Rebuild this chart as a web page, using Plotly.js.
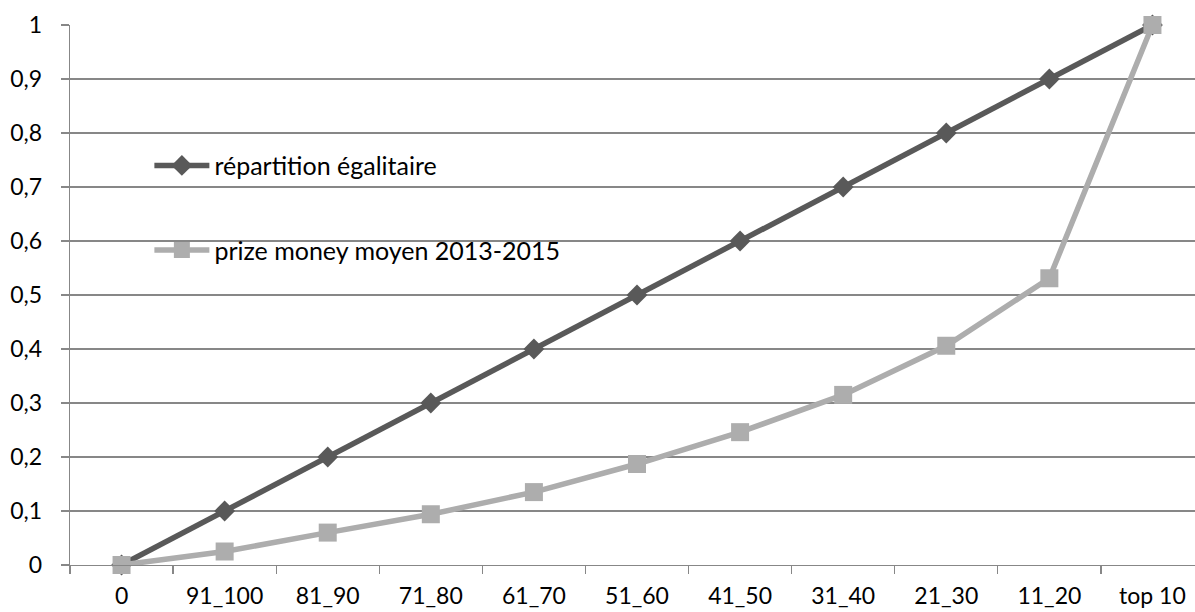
<!DOCTYPE html>
<html>
<head>
<meta charset="utf-8">
<script src="https://cdn.plot.ly/plotly-3.0.1.min.js"></script>
<style>
html,body{margin:0;padding:0;overflow:hidden;background:#fff;}
#chart{width:1210px;height:612px;}
</style>
</head>
<body>
<div id="chart"></div>
<script>
var categories = ["0","91_100","81_90","71_80","61_70","51_60","41_50","31_40","21_30","11_20","top 10"];
var equalShare = [0,0.1,0.2,0.3,0.4,0.5,0.6,0.7,0.8,0.9,1];
var prizeMoney = [0,0.025,0.06,0.094,0.135,0.187,0.246,0.315,0.406,0.531,1];
var seriesNames = ["répartition égalitaire","prize money moyen 2013-2015"];

var fontFam = "Lato, 'Open Sans', sans-serif";
var gridCol = "#878787";

var traces = [
  {
    x: categories, y: equalShare, name: seriesNames[0], type: "scatter", mode: "lines+markers",
    line: {color: "#595959", width: 5.5},
    marker: {symbol: "diamond", size: 16, color: "#595959"},
    legendgroup: "a", cliponaxis: false
  },
  {
    x: categories, y: prizeMoney, name: seriesNames[1], type: "scatter", mode: "lines+markers",
    line: {color: "#ADADAD", width: 5.5},
    marker: {symbol: "square", size: 18, color: "#ADADAD"},
    legendgroup: "b", cliponaxis: false
  }
];

var layout = {
  width: 1210, height: 612,
  margin: {l: 70, r: 6, t: 25, b: 47},
  paper_bgcolor: "#fff", plot_bgcolor: "#fff",
  separators: ", ",
  font: {family: fontFam, size: 23, color: "#000"},
  showlegend: true,
  legend: {
    x: 0.07, y: 0.782, xanchor: "left", yanchor: "top",
    bgcolor: "rgba(0,0,0,0)", borderwidth: 0,
    tracegroupgap: 49, traceorder: "grouped",
    font: {family: fontFam, size: 25, color: "#000"},
    itemwidth: 55
  },
  xaxis: {
    type: "category", range: [-0.5, 10.5],
    showgrid: false, zeroline: false,
    showline: true, linecolor: gridCol, linewidth: 1.3,
    ticks: "outside", tickson: "boundaries", ticklen: 8, tickwidth: 1.3, tickcolor: gridCol,
    ticklabelstandoff: 10,
    tickfont: {family: fontFam, size: 23, color: "#000"},
    fixedrange: true
  },
  yaxis: {
    range: [0, 1], dtick: 0.1, tick0: 0,
    showgrid: true, gridcolor: gridCol, gridwidth: 1.3,
    zeroline: false,
    showline: true, linecolor: gridCol, linewidth: 1.3,
    ticks: "outside", ticklen: 8, tickwidth: 1.3, tickcolor: gridCol,
    ticklabelstandoff: 14,
    tickfont: {family: fontFam, size: 23, color: "#000"},
    fixedrange: true
  }
};

Plotly.newPlot("chart", traces, layout, {displayModeBar: false, staticPlot: true});
</script>
</body>
</html>
